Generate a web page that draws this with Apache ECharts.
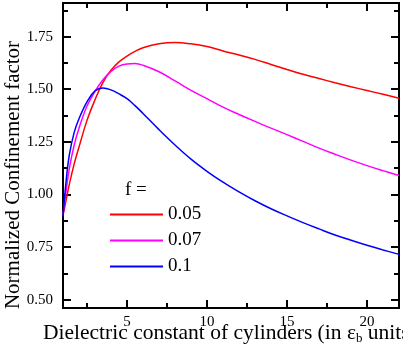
<!DOCTYPE html>
<html>
<head>
<meta charset="utf-8">
<script src="https://cdn.jsdelivr.net/npm/echarts@6/dist/echarts.min.js"></script>
<style>
  html, body { margin: 0; padding: 0; background: #fff; }
  #chart { width: 403px; height: 360px; }
</style>
</head>
<body>
<div id="chart"></div>
<script>
// data
const eps = [1, 1.2, 1.4, 1.7, 2, 2.5, 3, 3.5, 4, 4.5, 5, 5.5, 6, 7, 8, 9, 10, 11, 12, 13, 14, 15, 16, 17, 18, 19, 20, 21, 22]
const f005 = [0.90, 0.975, 1.05, 1.145, 1.225, 1.352, 1.45, 1.533, 1.59, 1.63, 1.658, 1.68, 1.697, 1.716, 1.722, 1.716, 1.703, 1.682, 1.663, 1.642, 1.618, 1.594, 1.571, 1.551, 1.531, 1.512, 1.494, 1.476, 1.457]
const f007 = [0.905, 1.02, 1.125, 1.235, 1.315, 1.42, 1.49, 1.545, 1.585, 1.61, 1.62, 1.622, 1.614, 1.583, 1.54, 1.495, 1.455, 1.415, 1.38, 1.347, 1.315, 1.284, 1.252, 1.22, 1.191, 1.163, 1.137, 1.113, 1.09]
const f01 = [0.895, 1.068, 1.19, 1.295, 1.36, 1.44, 1.492, 1.506, 1.497, 1.478, 1.455, 1.422, 1.385, 1.308, 1.235, 1.168, 1.11, 1.058, 1.012, 0.97, 0.932, 0.898, 0.866, 0.836, 0.807, 0.782, 0.758, 0.736, 0.715]
const seriesNames = ['0.05', '0.07', '0.1']
const seriesColors = ['#ff0000', '#ff00ff', '#0000ff']

const xMajor = [5, 10, 15, 20]
const xMinor = [2.5, 7.5, 12.5, 17.5]
const yMajor = [0.5, 0.75, 1.0, 1.25, 1.5, 1.75]
const yMinor = [0.625, 0.875, 1.125, 1.375, 1.625, 1.875]

const font = "'Liberation Serif', 'Times New Roman', serif"
const xMin = 1, xMax = 22, yMin = 0.46, yMax = 1.91

function pairs(ys) {
  return eps.map((x, i) => [x, ys[i]])
}

function xAx(pos, ticks, len, labels) {
  return {
    type: 'value', min: xMin, max: xMax, position: pos,
    splitLine: { show: false },
    axisLine: { show: true, onZero: false, lineStyle: { color: '#000', width: 2 } },
    axisTick: { show: true, inside: true, length: len, customValues: ticks, lineStyle: { color: '#000', width: 2 } },
    axisLabel: labels ? { show: true, customValues: ticks, margin: 7, color: '#000', fontFamily: font, fontSize: 15 } : { show: false }
  }
}
function yAx(pos, ticks, len, labels) {
  return {
    type: 'value', min: yMin, max: yMax, position: pos,
    splitLine: { show: false },
    axisLine: { show: true, onZero: false, lineStyle: { color: '#000', width: 2 } },
    axisTick: { show: true, inside: true, length: len, customValues: ticks, lineStyle: { color: '#000', width: 2 } },
    axisLabel: labels ? {
      show: true, customValues: ticks, margin: 10, color: '#000', fontFamily: font, fontSize: 15,
      formatter: v => v.toFixed(2)
    } : { show: false }
  }
}

let myChart = echarts.init(document.getElementById('chart'))
let option = {
  animation: false,
  grid: { left: 63, right: 4, top: 3, bottom: 52 },
  xAxis: [
    xAx('bottom', xMajor, 8, true),
    xAx('bottom', xMinor, 5, false),
    xAx('top', xMajor, 8, false),
    xAx('top', xMinor, 5, false)
  ],
  yAxis: [
    yAx('left', yMajor, 8, true),
    yAx('left', yMinor, 5, false),
    yAx('right', yMajor, 8, false),
    yAx('right', yMinor, 5, false)
  ],
  legend: {
    orient: 'vertical',
    left: 110, top: 205, padding: 0,
    icon: 'rect', itemWidth: 53, itemHeight: 2, itemGap: 7,
    data: seriesNames,
    textStyle: { fontFamily: font, fontSize: 19, color: '#000', lineHeight: 19 }
  },
  graphic: [
    { type: 'text', x: 125, y: 190, style: { text: 'f =', font: '19px ' + font, fill: '#000', textVerticalAlign: 'middle' } },
    {
      type: 'text', x: 13, y: 175, rotation: Math.PI / 2,
      style: { text: 'Normalized Confinement factor', font: '21px ' + font, fill: '#000', textAlign: 'center', textVerticalAlign: 'middle' }
    },
    {
      type: 'text', x: 43, y: 333,
      style: {
        text: 'Dielectric constant of cylinders (in ε{sub|b} units)',
        font: '21.5px ' + font, fill: '#000', textVerticalAlign: 'middle',
        rich: { sub: { fontSize: 13, fontFamily: font, fill: '#000', padding: [11, 0, 0, 0] } }
      }
    }
  ],
  series: [
    { name: seriesNames[0], type: 'line', smooth: 0.4, symbol: 'none', data: pairs(f005), lineStyle: { color: seriesColors[0], width: 1.5 }, itemStyle: { color: seriesColors[0] } },
    { name: seriesNames[1], type: 'line', smooth: 0.4, symbol: 'none', data: pairs(f007), lineStyle: { color: seriesColors[1], width: 1.5 }, itemStyle: { color: seriesColors[1] } },
    { name: seriesNames[2], type: 'line', smooth: 0.4, symbol: 'none', data: pairs(f01), lineStyle: { color: seriesColors[2], width: 1.5 }, itemStyle: { color: seriesColors[2] } }
  ]
}
myChart.setOption(option)
</script>
</body>
</html>
